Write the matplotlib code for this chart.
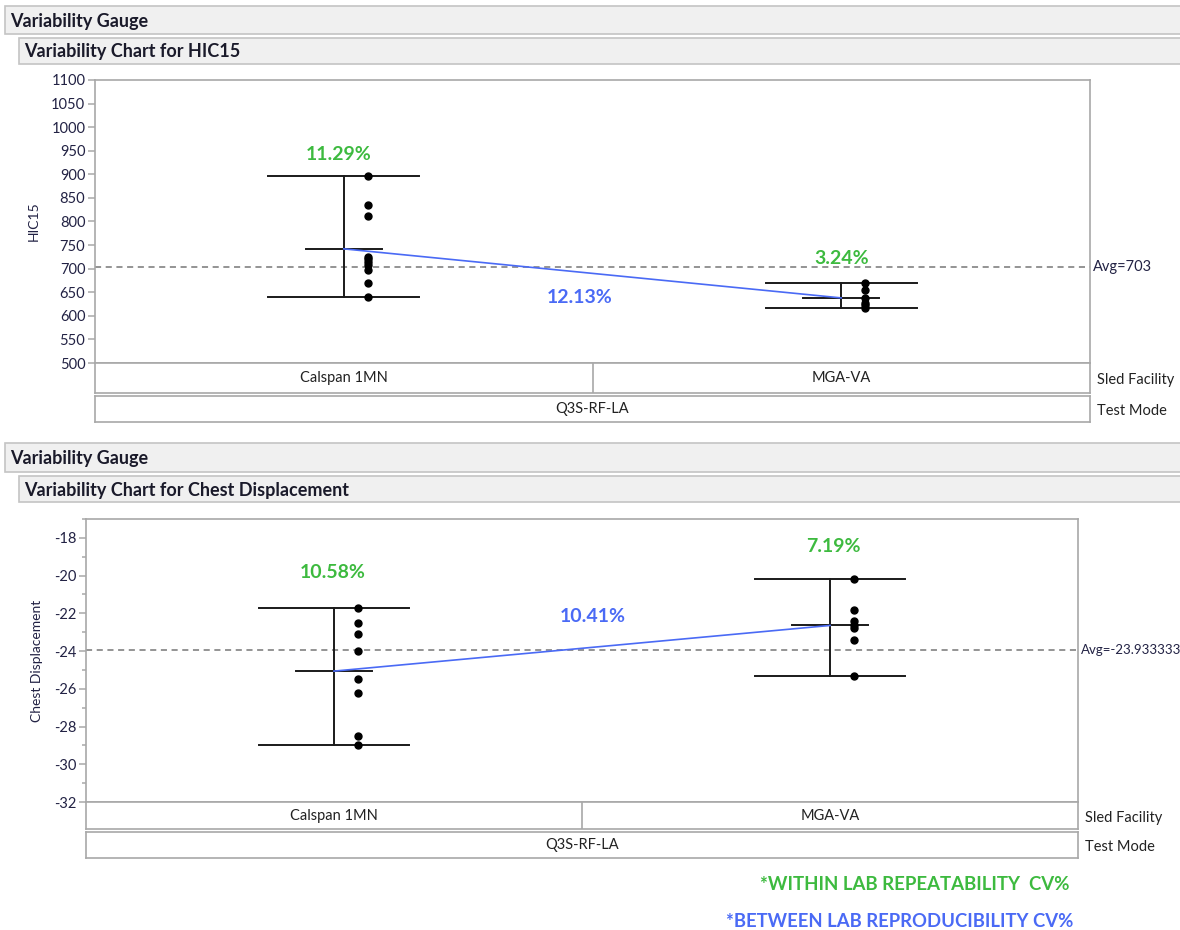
import matplotlib
matplotlib.use("Agg")
import matplotlib.pyplot as plt
from matplotlib.patches import Rectangle
import numpy as np

plt.rcParams['font.family'] = ['Lato', 'DejaVu Sans']
plt.rcParams['axes.unicode_minus'] = False

# ---- data ----
facilities = ["Calspan 1MN", "MGA-VA"]
test_mode = "Q3S-RF-LA"

hic15_calspan = [896, 836, 812, 725, 720, 715, 708, 698, 670, 640]
hic15_mga = [669, 655, 638, 628, 622, 616]
hic15_within_cv = ["11.29%", "3.24%"]
hic15_between_cv = "12.13%"
hic15_ticks = list(range(500, 1101, 50))

chest_calspan = [-21.7, -22.5, -23.1, -24.0, -25.5, -26.2, -28.5, -29.0]
chest_mga = [-20.2, -21.8, -22.4, -22.6, -22.8, -23.4, -25.3]
chest_within_cv = ["10.58%", "7.19%"]
chest_between_cv = "10.41%"
chest_ticks = list(range(-32, -17, 2))

W, H = 1180, 930
GREEN = "#3dba3f"
BLUE = "#4a6af5"
FRAME = "#a8a8a8"

fig = plt.figure(figsize=(W / 100, H / 100), dpi=100)
fig.patch.set_facecolor("white")


def fbox(x0, y0, x1, y1):
    return [x0 / W, 1 - y1 / H, (x1 - x0) / W, (y1 - y0) / H]


def header(x0, y0, x1, y1, text):
    r = Rectangle((x0 / W, 1 - y1 / H), (x1 - x0) / W, (y1 - y0) / H,
                  transform=fig.transFigure, facecolor="#f0f0f0",
                  edgecolor="#c4c4c4", linewidth=1.2)
    fig.add_artist(r)
    fig.text((x0 + 5) / W, 1 - ((y0 + y1) / 2 + 1) / H, text, ha="left",
             va="center", fontsize=13, fontweight="bold", color="#1a1a2a")


def cat_box(x0, y0, x1, y1, labels, side_label):
    ax = fig.add_axes(fbox(x0, y0, x1, y1))
    ax.set_xlim(0, len(labels))
    ax.set_ylim(0, 1)
    ax.set_xticks([])
    ax.set_yticks([])
    for s in ax.spines.values():
        s.set_color(FRAME)
        s.set_linewidth(1.2)
    for i, lab in enumerate(labels):
        if i > 0:
            ax.axvline(i, color=FRAME, linewidth=1.2)
        ax.text(i + 0.5, 0.5, lab, ha="center", va="center", fontsize=10.5,
                color="#222222")
    fig.text((x1 + 7) / W, 1 - ((y0 + y1) / 2 + 2) / H, side_label,
             ha="left", va="center", fontsize=10.5, color="#222222")
    return ax


def variability(rect, groups, ylim, ticks, ylabel, minor, within, between,
                within_pos, between_pos, avg_fmt, avg_size):
    ax = fig.add_axes(fbox(*rect))
    ax.set_xlim(0, len(groups))
    ax.set_ylim(*ylim)
    for s in ax.spines.values():
        s.set_color(FRAME)
        s.set_linewidth(1.2)
    ax.set_xticks([])
    ax.set_yticks(ticks)
    if minor:
        ax.set_yticks([t + 1 for t in ticks[:-1]] + [ticks[-1] + 1], minor=True)
    ax.tick_params(axis="y", which="both", color=FRAME, width=1.1,
                   labelsize=10.5, labelcolor="#222244", pad=2)
    ax.tick_params(axis="y", which="major", length=5)
    ax.tick_params(axis="y", which="minor", length=3)
    ax.set_ylabel(ylabel, fontsize=10, color="#222244", labelpad=8)

    all_vals = np.concatenate([np.asarray(g, float) for g in groups])
    avg = all_vals.mean()
    ax.axhline(avg, color="#777777", linestyle=(0, (4, 3)), linewidth=1.1,
               zorder=1)
    ax.annotate(avg_fmt(avg), xy=(1, avg), xycoords=("axes fraction", "data"),
                xytext=(2, 0), textcoords="offset points", ha="left",
                va="center", fontsize=avg_size, color="#222244",
                annotation_clip=False)

    means = []
    for i, g in enumerate(groups):
        g = np.asarray(g, float)
        c = i + 0.5
        lo, hi, m = g.min(), g.max(), g.mean()
        means.append(m)
        ax.plot([c, c], [lo, hi], color="#1a1a1a", linewidth=1.4, zorder=3)
        ax.plot([c - 0.152, c + 0.152], [hi, hi], color="#1a1a1a",
                linewidth=1.4, zorder=3)
        ax.plot([c - 0.152, c + 0.152], [lo, lo], color="#1a1a1a",
                linewidth=1.4, zorder=3)
        ax.plot([c - 0.076, c + 0.076], [m, m], color="#1a1a1a",
                linewidth=1.4, zorder=3)
        ax.plot(np.full(len(g), c + 0.048), g, "o", color="black",
                markersize=5, zorder=4)
        ax.text(within_pos[i][0], within_pos[i][1], within[i], ha="center",
                va="center", fontsize=14, fontweight="bold", color=GREEN)
    centers = np.arange(len(groups)) + 0.5
    ax.plot(centers, means, color=BLUE, linewidth=1.2, zorder=3)
    ax.text(between_pos[0], between_pos[1], between, ha="center", va="center",
            fontsize=14, fontweight="bold", color=BLUE)
    return ax


# ---- HIC15 ----
header(5, 6, 1195, 34, "Variability Gauge")
header(19, 38, 1195, 64, "Variability Chart for HIC15")
variability((95, 80, 1090, 363), [hic15_calspan, hic15_mga], (500, 1100),
            hic15_ticks, "HIC15", False, hic15_within_cv, hic15_between_cv,
            [(0.49, 943), (1.5, 722)], (0.975, 638),
            lambda a: f"Avg={a:.0f}", 10.5)
cat_box(95, 363, 1090, 393, facilities, "Sled Facility")
cat_box(95, 396, 1090, 422, [test_mode], "Test Mode")

# ---- Chest displacement ----
header(5, 443, 1195, 472, "Variability Gauge")
header(19, 476, 1195, 502, "Variability Chart for Chest Displacement")
variability((86, 519, 1078, 802), [chest_calspan, chest_mga], (-32, -17.1),
            chest_ticks, "Chest Displacement", True, chest_within_cv,
            chest_between_cv, [(0.498, -19.84), (1.506, -18.47)],
            (1.022, -22.16), lambda a: f"Avg={a:.6f}", 9.5)
cat_box(86, 802, 1078, 829, facilities, "Sled Facility")
cat_box(86, 832, 1078, 858, [test_mode], "Test Mode")

# ---- footnotes ----
fig.text(1070 / W, 1 - 884 / H, "*WITHIN LAB REPEATABILITY  CV%", ha="right",
         va="center", fontsize=13.4, fontweight="bold", color=GREEN)
fig.text(1073 / W, 1 - 921 / H, "*BETWEEN LAB REPRODUCIBILITY CV%",
         ha="right", va="center", fontsize=13.3, fontweight="bold", color=BLUE)

fig.savefig("out.png", dpi=100)
